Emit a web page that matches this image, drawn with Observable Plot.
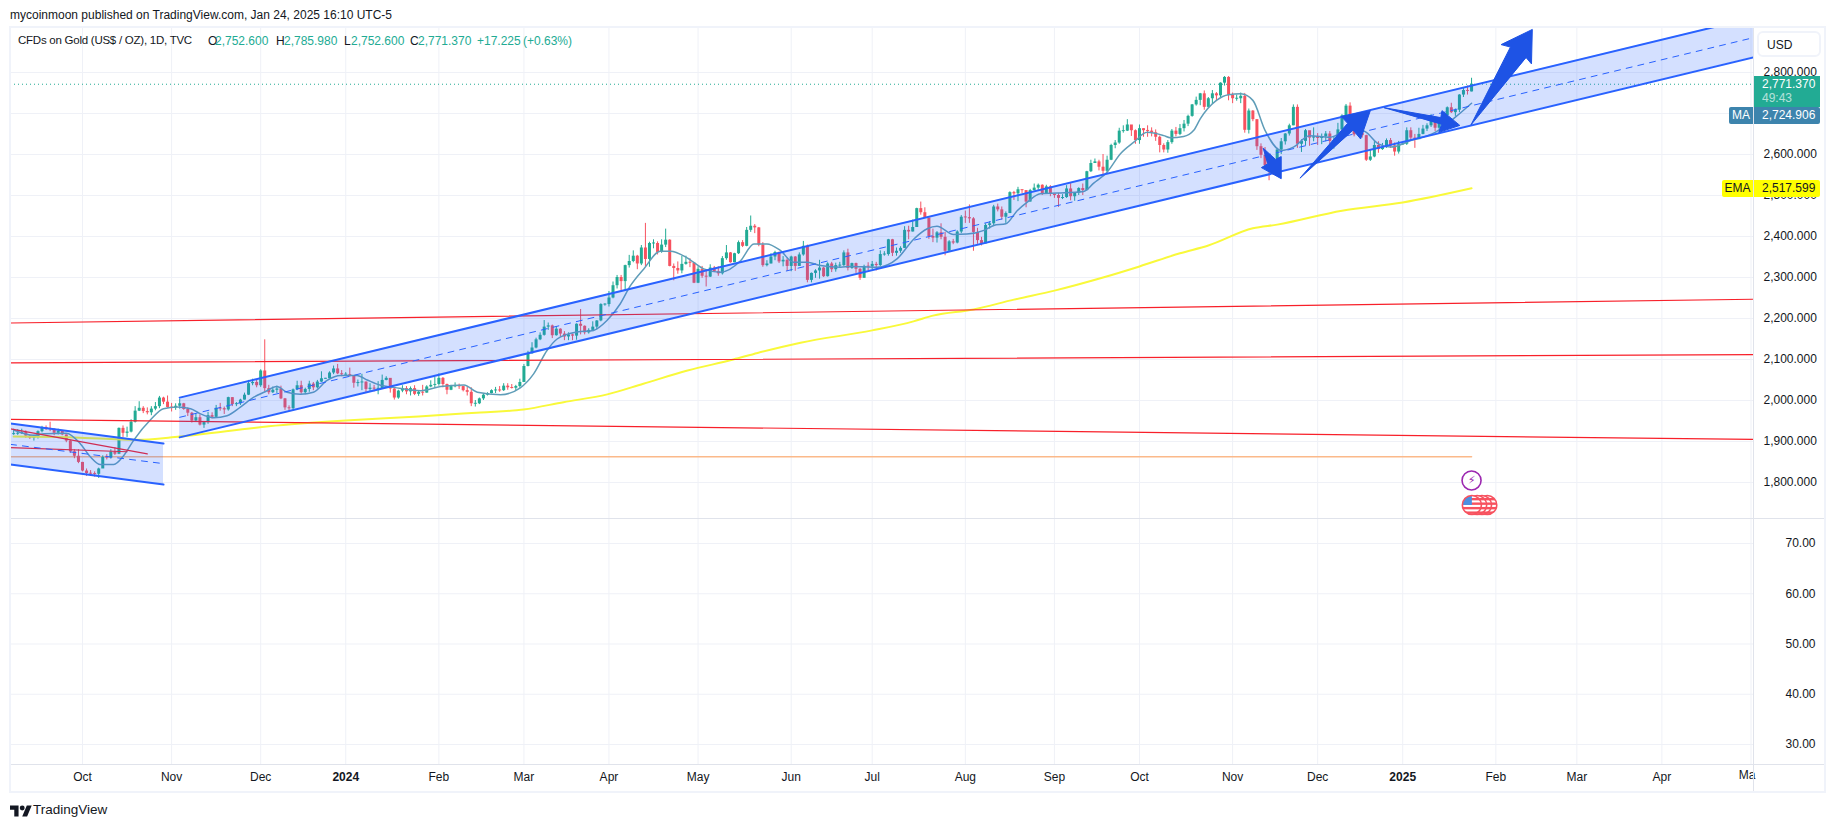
<!DOCTYPE html>
<html><head><meta charset="utf-8">
<script src="https://cdn.jsdelivr.net/npm/d3@7"></script>
<script src="https://cdn.jsdelivr.net/npm/@observablehq/plot@0.6"></script>
<style>
html,body{margin:0;padding:0;background:#fff;overflow:hidden}
#page{position:relative;width:1835px;height:827px;font-family:"Liberation Sans",sans-serif;color:#131722;font-size:12px}
#page svg{position:absolute;left:0;overflow:visible;background:transparent}
.abs{position:absolute;white-space:nowrap}
</style></head><body><div id="page"></div>
<script>
// first bar = Sep 7 2023, bar 0 = Oct 2 2023
const firstBar = -17;
const closes = [
1919,1919,1922,1913,1908,1910,1924,1934,1931,1930,1920,1925,1916,1901,1875,1864,1849,
1828,1822,1821,1820,1833,1861,1860,1874,1869,1932,1920,1923,1947,1974,1981,1973,1970,1979,1985,2006,1996,1983,
1982,1986,1992,1978,1969,1950,1958,1940,1946,1963,1959,1981,1980,1977,2007,1990,1992,2001,2013,2041,2044,2036,
2072,2029,2019,2025,2028,2004,1982,1980,2026,2036,2019,2027,2040,2031,2045,2053,2053,2067,2077,2065,2063,
2063,2059,2042,2043,2045,2027,2030,2028,2029,2049,2054,2028,2006,2023,2029,2021,2029,2015,2020,2018,2033,2037,2039,
2054,2039,2025,2034,2035,2034,2024,2020,1992,1992,2004,2013,2017,2024,2025,2024,2035,2031,2030,2034,2044,
2083,2114,2128,2148,2159,2179,2182,2158,2174,2162,2155,2160,2157,2186,2181,2165,2171,2179,2194,2234,2234,
2250,2280,2300,2290,2329,2339,2352,2333,2372,2344,2383,2383,2361,2379,2391,2327,2322,2316,2332,2337,2335,2286,
2320,2303,2301,2323,2314,2309,2346,2360,2336,2358,2385,2376,2415,2425,2421,2379,2329,2333,2350,2361,2338,2342,2327,
2350,2327,2355,2376,2293,2310,2316,2323,2302,2333,2319,2329,2329,2360,2322,2334,2320,2298,2327,2326,
2332,2329,2356,2356,2392,2359,2364,2371,2415,2411,2422,2468,2458,2445,2400,2396,2409,2398,2364,2387,2384,2411,2447,
2446,2443,2410,2390,2382,2427,2431,2472,2465,2447,2456,2507,2504,2514,2512,2484,2512,2518,2525,2504,2521,2503,
2500,2493,2495,2516,2497,2506,2517,2512,2558,2578,2582,2569,2559,2586,2622,2628,2657,2657,2672,2658,2634,
2663,2658,2657,2653,2642,2622,2611,2629,2657,2649,2663,2674,2693,2721,2732,2748,2715,2736,2748,2743,2774,2788,2744,
2736,2736,2742,2659,2706,2685,2619,2598,2573,2565,2563,2611,2631,2650,2670,2715,2625,2632,2658,2640,2643,
2639,2643,2650,2632,2633,2660,2694,2718,2680,2648,2652,2646,2586,2594,2622,2612,2617,2634,2621,2606,2624,
2625,2658,2640,2636,2649,2662,2670,2689,2664,2677,2695,2714,2702,2708,2745,2756,2754.145,2771.37];
const highs = [
1930,1929,1930,1926,1915,1915,1926,1937,1938,1947,1931,1930,1926,1916,1903,1880,1880,
1849,1833,1829,1826,1835,1865,1868,1880,1885,1933,1938,1935,1953,1985,1997,1985,1982,1985,1995,2010,2008,2011,
1993,1992,2003,1993,1982,1971,1966,1965,1948,1971,1970,1988,1993,1984,2008,2007,1995,2003,2018,2049,2052,2051,
2075,2148,2037,2033,2035,2035,2005,1987,2028,2047,2047,2030,2047,2044,2049,2070,2054,2070,2084,2088,2073,
2068,2079,2059,2050,2064,2045,2041,2037,2046,2062,2058,2052,2029,2025,2036,2034,2033,2036,2023,2037,2036,2048,2056,
2065,2056,2040,2037,2043,2040,2034,2032,2031,2000,2006,2016,2019,2026,2032,2034,2041,2041,2039,2037,2052,
2088,2120,2141,2152,2165,2195,2189,2184,2180,2175,2168,2165,2162,2187,2222,2182,2175,2192,2195,2236,2236,
2266,2289,2305,2305,2330,2354,2365,2354,2378,2432,2386,2392,2387,2392,2418,2392,2333,2338,2352,2352,2346,2336,
2326,2327,2318,2331,2327,2326,2351,2378,2361,2359,2389,2390,2422,2450,2429,2422,2385,2341,2358,2364,2362,2351,2348,
2352,2351,2360,2388,2379,2311,2319,2342,2325,2336,2337,2335,2337,2365,2369,2335,2335,2322,2330,2336,
2339,2337,2365,2363,2393,2393,2372,2375,2424,2425,2440,2469,2484,2470,2425,2418,2412,2431,2410,2390,2393,2414,2451,
2462,2477,2446,2420,2398,2431,2436,2476,2479,2472,2460,2509,2510,2520,2513,2509,2515,2528,2528,2526,2525,2524,
2504,2505,2502,2524,2529,2507,2519,2528,2559,2586,2589,2586,2600,2596,2625,2634,2664,2670,2685,2670,2660,
2672,2663,2670,2665,2660,2645,2626,2634,2661,2666,2673,2683,2696,2722,2740,2749,2755,2739,2756,2751,2775,2790,2790,
2750,2745,2750,2749,2711,2707,2685,2626,2617,2586,2574,2615,2639,2651,2674,2721,2721,2636,2661,2641,2665,
2651,2650,2656,2656,2644,2676,2697,2722,2726,2692,2660,2653,2647,2610,2632,2631,2627,2638,2639,2628,2632,
2628,2665,2665,2649,2664,2671,2675,2697,2691,2680,2697,2716,2725,2711,2746,2763,2767,2785.98];
const lows = [
1915,1915,1917,1908,1905,1901,1906,1921,1927,1924,1914,1916,1914,1897,1871,1858,1846,
1826,1815,1815,1813,1810,1845,1855,1857,1866,1868,1910,1910,1921,1945,1973,1968,1965,1963,1975,1980,1990,1981,
1972,1976,1979,1976,1961,1945,1947,1938,1932,1942,1955,1958,1974,1966,1974,1985,1985,1988,2001,2012,2036,2031,
2032,2022,2014,2017,2017,2002,1976,1973,1974,2024,2015,2014,2020,2024,2028,2044,2052,2053,2063,2063,2058,
2062,2057,2030,2033,2024,2017,2021,2021,2014,2028,2048,2018,2001,2003,2019,2014,2011,2012,2010,2011,2018,2031,2030,
2035,2031,2014,2024,2031,2027,2021,2011,1985,1984,1990,2000,2011,2016,2017,2020,2022,2025,2028,2024,2030,
2044,2082,2113,2126,2146,2157,2171,2151,2157,2155,2146,2146,2146,2147,2160,2160,2162,2171,2172,2192,2230,
2228,2248,2272,2268,2268,2323,2336,2319,2329,2326,2325,2370,2355,2359,2373,2326,2292,2308,2309,2330,2324,2285,
2285,2298,2277,2300,2312,2303,2306,2342,2335,2336,2356,2373,2375,2410,2407,2375,2325,2326,2333,2341,2334,2326,2315,
2314,2315,2327,2352,2287,2287,2298,2296,2300,2301,2312,2313,2322,2327,2316,2320,2310,2293,2298,2317,
2319,2316,2327,2352,2352,2351,2352,2359,2371,2392,2411,2422,2452,2445,2393,2385,2384,2392,2353,2365,2380,2382,2407,
2432,2432,2364,2381,2377,2382,2418,2424,2460,2440,2432,2456,2488,2485,2505,2470,2484,2511,2513,2500,2504,2497,
2493,2471,2490,2493,2487,2486,2500,2500,2511,2556,2578,2560,2546,2555,2585,2614,2625,2652,2656,2644,2625,
2625,2642,2642,2643,2632,2604,2604,2603,2625,2643,2646,2655,2668,2691,2718,2719,2708,2713,2722,2729,2739,2767,2731,
2724,2730,2724,2652,2650,2680,2610,2590,2565,2536,2550,2562,2600,2623,2645,2670,2615,2605,2621,2620,2631,
2622,2624,2631,2624,2613,2632,2658,2693,2676,2643,2645,2640,2583,2583,2592,2603,2610,2615,2615,2596,2601,
2622,2622,2633,2615,2640,2648,2656,2666,2656,2661,2667,2689,2700,2693,2702,2739,2745,2752.6];
if (closes.length!==361||highs.length!==361||lows.length!==361) throw new Error("len "+closes.length+" "+highs.length+" "+lows.length);
const firstOpen = 1917, lastOpen = 2752.6;

const maBars = [-17,-12,-9.5,-4,-0.5,2,4.4,7.7,10.2,12.7,16.8,20,23.4,26.7,29,32.4,35.7,39,42.3,44.8,48,50.5,53.8,57,60.4,63.7,67.8,70.3,73.6,76.9,83.5,88.4,94.2,97.5,103.2,108.1,111.4,114.7,117.2,122.1,126.2,129.5,132.8,135.3,138.6,142.7,145.2,149.3,153.4,157.5,162.5,165.8,169,172.3,175.6,179,182.2,187.2,189.6,196.2,201.2,205.3,208.6,211,215.1,218.4,222.6,225,228,230.8,233.3,236.5,240.7,247.2,249.7,253,256.3,259.6,262.9,267,268.6,271.9,274.4,276,280,283,286,289,292,296,299,303,308,311,315,317,320,323,328,334,339,343];
const maVals = [1928,1915,1919,1920,1894,1862,1844,1844,1866,1904,1953,1980,1984,1980,1968,1958,1963,1984,2008,2020,2034,2020,2015,2020,2049,2061,2061,2050,2037,2032,2024,2034,2038,2020,2014,2031,2065,2122,2150,2167,2171,2195,2236,2280,2321,2364,2364,2348,2321,2313,2341,2382,2382,2366,2337,2337,2329,2325,2327,2325,2346,2394,2419,2425,2405,2406,2415,2427,2431,2463,2484,2504,2506,2510,2530,2557,2602,2630,2654,2646,2641,2644,2659,2687,2732,2746,2748,2732,2659,2610,2618,2646,2642,2654,2663,2654,2626,2618,2634,2654,2691,2724.906];
const emaBars = [-17,-2,13,24,46,65,83,98.3,108.9,118.8,129.6,138.5,149.4,160.7,166.7,177.3,195,205.2,210,220,230,240,252,261,271,278,289,295,311,326,343];
const emaVals = [1912,1910,1904,1912,1937,1951,1961,1971,1978,1996,2015,2041,2073,2100,2116,2141,2171,2193,2207,2222,2246,2268,2300,2327,2359,2378,2420,2429,2463,2483,2517.599];

const channels = [
  {bars:[-17.78,20], upper:[1944,1895], mid:[1893,1846], lower:[1844,1795]},
  {bars:[24,412.62], upper:[2007,2934], mid:[1959,2885], lower:[1910,2837]}
];
const redLines = [
  {bars:[-17.78,412.62], vals:[2189,2247]},
  {bars:[-17.78,412.62], vals:[2092,2112]},
  {bars:[-17.78,412.62], vals:[1954,1905]},
  {bars:[-17.78,16], vals:[1931,1870]},
  {bars:[-17.78,11], vals:[1885,1875]}
];
const orangeBars = [-17.78,343], orangeVal = 1863;
const arrows = [
 [[291.6,2615],[294.6,2588],[296,2595],[296,2541],[291.1,2568],[292.6,2577]],
 [[300.7,2543],[312.4,2676],[310.8,2693],[318,2707],[315.6,2638],[313.8,2659]],
 [[321.5,2714],[335.4,2690],[335.7,2707],[340.1,2671],[334.9,2654],[335.6,2673]],
 [[342.9,2673],[352.6,2862],[350.3,2868],[358,2905],[357.8,2821],[356.5,2836]]
];
const monthBars = [0,22,44,88,109,130,152,175,195,218,240,261,284,305,349,369,390];
const monthNames = ["Oct","Nov","Dec","Feb","Mar","Apr","May","Jun","Jul","Aug","Sep","Oct","Nov","Dec","Feb","Mar","Apr"];
const yearBars = [65,326], yearNames = ["2024","2025"];
const mayBar = 412;
const priceTicks = [1800,1900,2000,2100,2200,2300,2400,2500,2600,2700,2800];
const oscTicks = [30,40,50,60,70];
const flagBars = [347,345.7,344.5,343.2];

const bars = closes.map((c,i)=>{
  const open = i===0?firstOpen:(i===closes.length-1?lastOpen:closes[i-1]);
  const mn=Math.min(open,c), mx=Math.max(open,c), pad=mx-mn<2.4?(2.4-(mx-mn))/2:0;
  return {bar:i+firstBar,open,close:c,high:highs[i],low:lows[i],b1:mn-pad,b2:mx+pad,col:c>=open?"#22ab94":"#f7525f"};
});
const zipPts=(xs,ys)=>xs.map((x,i)=>({x,y:ys[i]}));
const gridCol="#eff1f7", axisCol="#131722", font='"Liberation Sans",sans-serif';
const xScale={type:"linear",domain:[-17.78,412.62]};
const allBarsGrid=[...monthBars,...yearBars,mayBar];

const flagMark=(index,{x,y})=>{
  const g=d3.create("svg:g"), py=y(1744);
  flagBars.forEach((b,k)=>{
    const cx=x(b), id="fc"+k, r=9.5;
    g.append("clipPath").attr("id",id).append("circle").attr("cx",cx).attr("cy",py).attr("r",r);
    const f=g.append("g").attr("clip-path",`url(#${id})`);
    f.append("rect").attr("x",cx-r).attr("y",py-r).attr("width",2*r).attr("height",2*r).attr("fill","#fff");
    [-7,-2.5,2,6.5].forEach(d=>f.append("rect").attr("x",cx-r).attr("y",py+d).attr("width",2*r).attr("height",2.4).attr("fill","#f7525f"));
    if(k===flagBars.length-1){
      f.append("rect").attr("x",cx-r).attr("y",py-r).attr("width",r).attr("height",r).attr("fill","#4a90e2");
    }
    g.append("circle").attr("cx",cx).attr("cy",py).attr("r",r).attr("fill","none").attr("stroke","#f7525f").attr("stroke-width",1.6);
  });
  return g.node();
};

const pricePlot=Plot.plot({
  width:1835,height:518,marginTop:26,marginBottom:0,marginLeft:10,marginRight:82,
  style:{fontFamily:font,fontSize:"12px",background:"transparent",color:axisCol},
  x:{...xScale,axis:null},
  y:{type:"linear",domain:[1712.2,2912.2],axis:null},
  marks:[
    Plot.gridX(allBarsGrid,{stroke:gridCol,strokeOpacity:1,strokeWidth:1}),
    Plot.gridY(priceTicks,{stroke:gridCol,strokeOpacity:1,strokeWidth:1}),
    Plot.line(zipPts(orangeBars,[orangeVal,orangeVal]),{x:"x",y:"y",stroke:"#fbb98a",strokeWidth:1.5}),
    Plot.ruleX(bars,{x:"bar",y1:"low",y2:"high",stroke:"col",strokeWidth:1}),
    Plot.ruleX(bars,{x:"bar",y1:"b1",y2:"b2",stroke:"col",strokeWidth:3}),
    Plot.line(zipPts(emaBars,emaVals),{x:"x",y:"y",stroke:"#f9f93a",strokeWidth:2,curve:"monotone-x",clip:true}),
    Plot.line(zipPts(maBars,maVals),{x:"x",y:"y",stroke:"#5f9db8",strokeWidth:1.5,curve:"monotone-x",clip:true}),
    ...redLines.map(l=>Plot.line(zipPts(l.bars,l.vals),{x:"x",y:"y",stroke:"#f8202a",strokeWidth:1.2,clip:true})),
    Plot.ruleY([2771.37],{stroke:"#22ab94",strokeWidth:1,strokeDasharray:"1 3"}),
    ...channels.flatMap(c=>{
      const rows=c.bars.map((b,i)=>({b,u:c.upper[i],m:c.mid[i],l:c.lower[i]}));
      return [
        Plot.areaY(rows,{x:"b",y1:"l",y2:"u",fill:"#2962ff",fillOpacity:0.2,clip:true}),
        Plot.line(rows,{x:"b",y:"u",stroke:"#2962ff",strokeWidth:2,clip:true}),
        Plot.line(rows,{x:"b",y:"l",stroke:"#2962ff",strokeWidth:2,clip:true}),
        Plot.line(rows,{x:"b",y:"m",stroke:"#2962ff",strokeWidth:1,strokeDasharray:"6 6",clip:true})
      ];
    }),
    ...arrows.map(a=>Plot.line(a.map(p=>({x:p[0],y:p[1]})),{x:"x",y:"y",fill:"#1e53e5",stroke:"#1e53e5",strokeWidth:1,curve:"linear-closed",clip:true})),
    Plot.dot([{x:343,y:1805}],{x:"x",y:"y",r:9.5,fill:"#fff",stroke:"#9c27b0",strokeWidth:1.6}),
    Plot.text([{x:343,y:1805}],{x:"x",y:"y",text:()=>"\u26A1",fill:"#9c27b0",fontSize:11,fontFamily:"DejaVu Sans"}),
    flagMark,
    Plot.axisY({anchor:"right",ticks:priceTicks,tickSize:0,tickPadding:10,tickFormat:d3.format(",.3f"),fill:axisCol,fontSize:12,label:null})
  ]
});
const oscPlot=Plot.plot({
  width:1835,height:274,marginTop:0,marginBottom:29,marginLeft:10,marginRight:82,
  style:{fontFamily:font,fontSize:"12px",background:"transparent",color:axisCol},
  x:{...xScale,axis:null},
  y:{type:"linear",domain:[26.02,74.78],axis:null},
  marks:[
    Plot.gridX(allBarsGrid,{stroke:gridCol,strokeOpacity:1,strokeWidth:1}),
    Plot.gridY(oscTicks,{stroke:gridCol,strokeOpacity:1,strokeWidth:1}),
    Plot.axisY({anchor:"right",ticks:oscTicks,tickSize:0,tickPadding:32,tickFormat:d3.format(".2f"),fill:axisCol,fontSize:12,label:null}),
    Plot.axisX({anchor:"bottom",ticks:monthBars,tickSize:0,tickPadding:8,tickFormat:b=>monthNames[monthBars.indexOf(b)],fill:axisCol,fontSize:12,label:null}),
    Plot.axisX({anchor:"bottom",ticks:yearBars,tickSize:0,tickPadding:8,tickFormat:b=>yearNames[yearBars.indexOf(b)],fill:axisCol,fontSize:12,fontWeight:"bold",label:null}),
    Plot.text(["Ma"],{x:()=>mayBar,frameAnchor:"bottom",dy:14,dx:-4,text:d=>d,fill:axisCol,fontSize:12})
  ]
});

const page=document.getElementById("page");
pricePlot.style.top="0px"; oscPlot.style.top="519px";
page.append(pricePlot,oscPlot);
const div=(css,html)=>{const d=document.createElement("div");d.className="abs";d.style.cssText=css;d.innerHTML=html||"";page.append(d);return d;};

// frame and separators
div("left:9px;top:26px;width:1817px;height:767px;box-sizing:border-box;border:2px solid #f0f3fa;pointer-events:none");
div("left:1753px;top:28px;width:1px;height:763px;background:#e0e3eb");
div("left:11px;top:518px;width:1813px;height:1px;background:#e0e3eb");
div("left:11px;top:764px;width:1813px;height:1px;background:#e0e3eb");

// header
div("left:10px;top:8px;font-size:12px;color:#131722","mycoinmoon published on TradingView.com, Jan 24, 2025 16:10 UTC-5");
const legend=[[18,"CFDs on Gold (US$ / OZ), 1D, TVC","#131722"],[208,"O",""],[215,"2,752.600","t"],[276,"H",""],[284,"2,785.980","t"],[344,"L",""],[351,"2,752.600","t"],[410,"C",""],[418,"2,771.370","t"],[477,"+17.225","t"],[523,"(+0.63%)","t"]];
legend.forEach(([x,t,k],i)=>div(`left:${x}px;top:34px;font-size:${i===0?"11.5px":"12px"};letter-spacing:${i===0?"-0.25px":"0"};color:${k==="t"?"#22ab94":"#131722"}`,t));

// right-hand tags, stacked as in the reference (the MA tag sits just below the last-price tag)
div("left:1757px;top:31px;width:64px;height:26px;box-sizing:border-box;border:2px solid #f0f3fa;border-radius:6px;background:#fff;padding:5px 0 0 8px;font-size:12px","USD");
div("left:1754px;top:76px;width:66px;height:31px;background:#22ab94;color:#fff;padding:1px 0 0 8px;box-sizing:border-box;font-size:12px;line-height:14px","<div>2,771.370</div><div style='opacity:.65'>49:43</div>");
div("left:1729px;top:107px;width:24px;height:17px;background:#3d84ad;color:#fff;text-align:center;font-size:12px;line-height:17px;border-radius:2px 0 0 2px","MA");
div("left:1754px;top:107px;width:66px;height:17px;background:#3d84ad;color:#fff;padding-left:8px;box-sizing:border-box;font-size:12px;line-height:17px;border-radius:0 2px 2px 0","2,724.906");
div("left:1722px;top:180px;width:31px;height:17px;background:#ffff00;color:#131722;text-align:center;font-size:12px;line-height:17px;border-radius:2px 0 0 2px","EMA");
div("left:1754px;top:180px;width:66px;height:17px;background:#ffff00;color:#131722;padding-left:8px;box-sizing:border-box;font-size:12px;line-height:17px;border-radius:0 2px 2px 0","2,517.599");

// footer logo
div("left:10px;top:804px;line-height:0",`<svg style="position:static" width="22" height="14" viewBox="0 4 36 18"><path fill="#131722" d="M14 22H7V11H0V4h14v18zM28 22h-8l7.5-18h8L28 22z"/><circle fill="#131722" cx="20" cy="8" r="4"/></svg>`);
div("left:33px;top:802px;font-size:13.5px;color:#131722","TradingView");
</script></body></html>
